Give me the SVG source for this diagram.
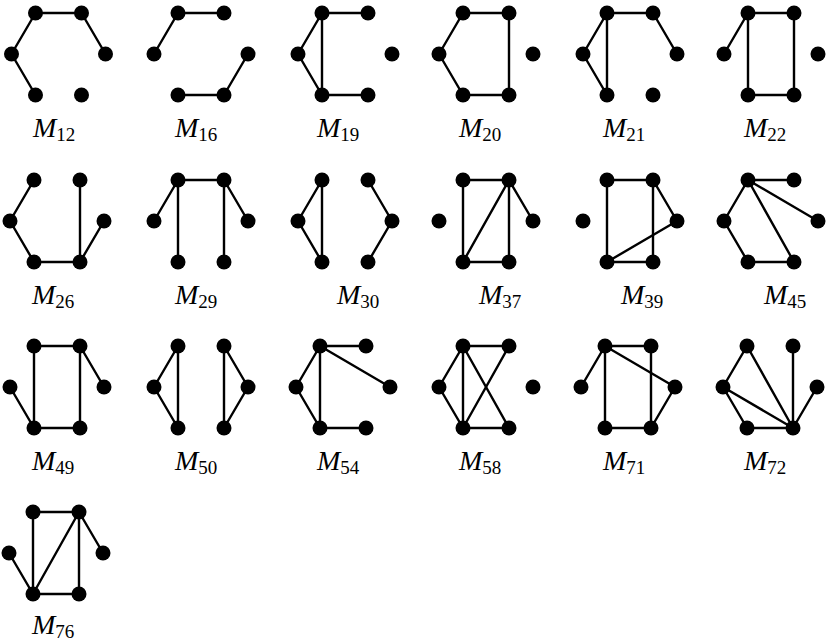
<svg xmlns="http://www.w3.org/2000/svg" width="826" height="644" viewBox="0 0 826 644">
<style>
.e line{stroke:#000;stroke-width:2.4;stroke-linecap:round}
.v circle{fill:#000}
.lb{font-family:"Liberation Serif","Times New Roman",serif;fill:#000}
.mi{font-style:italic;font-size:28px}
.sb{font-size:19px}
</style>
<defs>
<g id="verts" class="v">
<circle cx="0" cy="0" r="7.5"/><circle cx="46" cy="0" r="7.5"/><circle cx="70" cy="41" r="7.5"/>
<circle cx="46" cy="82" r="7.5"/><circle cx="0" cy="82" r="7.5"/><circle cx="-24" cy="41" r="7.5"/>
</g>
</defs>
<rect width="826" height="644" fill="#fff"/>

<g id="M12" transform="translate(35.5,13)">
<g class="e"><line x1="0" y1="0" x2="46" y2="0"/><line x1="0" y1="0" x2="-24" y2="41"/><line x1="-24" y1="41" x2="0" y2="82"/><line x1="46" y1="0" x2="70" y2="41"/></g>
<use href="#verts"/></g>
<g id="M16" transform="translate(178,13)">
<g class="e"><line x1="-24" y1="41" x2="0" y2="0"/><line x1="0" y1="0" x2="46" y2="0"/><line x1="0" y1="82" x2="46" y2="82"/><line x1="46" y1="82" x2="70" y2="41"/></g>
<use href="#verts"/></g>
<g id="M19" transform="translate(322,13)">
<g class="e"><line x1="0" y1="0" x2="46" y2="0"/><line x1="0" y1="0" x2="-24" y2="41"/><line x1="-24" y1="41" x2="0" y2="82"/><line x1="0" y1="0" x2="0" y2="82"/><line x1="0" y1="82" x2="46" y2="82"/></g>
<use href="#verts"/></g>
<g id="M20" transform="translate(463,13)">
<g class="e"><line x1="0" y1="0" x2="46" y2="0"/><line x1="0" y1="0" x2="-24" y2="41"/><line x1="-24" y1="41" x2="0" y2="82"/><line x1="0" y1="82" x2="46" y2="82"/><line x1="46" y1="0" x2="46" y2="82"/></g>
<use href="#verts"/></g>
<g id="M21" transform="translate(607,13)">
<g class="e"><line x1="0" y1="0" x2="46" y2="0"/><line x1="0" y1="0" x2="-24" y2="41"/><line x1="-24" y1="41" x2="0" y2="82"/><line x1="0" y1="0" x2="0" y2="82"/><line x1="46" y1="0" x2="70" y2="41"/></g>
<use href="#verts"/></g>
<g id="M22" transform="translate(748,13)">
<g class="e"><line x1="0" y1="0" x2="46" y2="0"/><line x1="0" y1="0" x2="-24" y2="41"/><line x1="0" y1="0" x2="0" y2="82"/><line x1="46" y1="0" x2="46" y2="82"/><line x1="0" y1="82" x2="46" y2="82"/></g>
<use href="#verts"/></g>

<g id="M26" transform="translate(34,180)">
<g class="e"><line x1="0" y1="0" x2="-24" y2="41"/><line x1="-24" y1="41" x2="0" y2="82"/><line x1="0" y1="82" x2="46" y2="82"/><line x1="46" y1="0" x2="46" y2="82"/><line x1="70" y1="41" x2="46" y2="82"/></g>
<use href="#verts"/></g>
<g id="M29" transform="translate(178,180)">
<g class="e"><line x1="0" y1="0" x2="46" y2="0"/><line x1="0" y1="0" x2="-24" y2="41"/><line x1="0" y1="0" x2="0" y2="82"/><line x1="46" y1="0" x2="70" y2="41"/><line x1="46" y1="0" x2="46" y2="82"/></g>
<use href="#verts"/></g>
<g id="M30" transform="translate(322,180)">
<g class="e"><line x1="0" y1="0" x2="-24" y2="41"/><line x1="-24" y1="41" x2="0" y2="82"/><line x1="0" y1="0" x2="0" y2="82"/><line x1="46" y1="0" x2="70" y2="41"/><line x1="70" y1="41" x2="46" y2="82"/></g>
<use href="#verts"/></g>
<g id="M37" transform="translate(463,180)">
<g class="e"><line x1="0" y1="0" x2="46" y2="0"/><line x1="0" y1="0" x2="0" y2="82"/><line x1="0" y1="82" x2="46" y2="82"/><line x1="46" y1="0" x2="0" y2="82"/><line x1="46" y1="0" x2="46" y2="82"/><line x1="46" y1="0" x2="70" y2="41"/></g>
<use href="#verts"/></g>
<g id="M39" transform="translate(607,180)">
<g class="e"><line x1="0" y1="0" x2="46" y2="0"/><line x1="0" y1="0" x2="0" y2="82"/><line x1="0" y1="82" x2="46" y2="82"/><line x1="46" y1="0" x2="46" y2="82"/><line x1="46" y1="0" x2="70" y2="41"/><line x1="70" y1="41" x2="0" y2="82"/></g>
<use href="#verts"/></g>
<g id="M45" transform="translate(748,180)">
<g class="e"><line x1="0" y1="0" x2="46" y2="0"/><line x1="0" y1="0" x2="-24" y2="41"/><line x1="-24" y1="41" x2="0" y2="82"/><line x1="0" y1="82" x2="46" y2="82"/><line x1="0" y1="0" x2="46" y2="82"/><line x1="0" y1="0" x2="70" y2="41"/></g>
<use href="#verts"/></g>

<g id="M49" transform="translate(34,346)">
<g class="e"><line x1="0" y1="0" x2="46" y2="0"/><line x1="0" y1="0" x2="0" y2="82"/><line x1="-24" y1="41" x2="0" y2="82"/><line x1="0" y1="82" x2="46" y2="82"/><line x1="46" y1="0" x2="46" y2="82"/><line x1="46" y1="0" x2="70" y2="41"/></g>
<use href="#verts"/></g>
<g id="M50" transform="translate(178,346)">
<g class="e"><line x1="0" y1="0" x2="-24" y2="41"/><line x1="-24" y1="41" x2="0" y2="82"/><line x1="0" y1="0" x2="0" y2="82"/><line x1="46" y1="0" x2="70" y2="41"/><line x1="70" y1="41" x2="46" y2="82"/><line x1="46" y1="0" x2="46" y2="82"/></g>
<use href="#verts"/></g>
<g id="M54" transform="translate(320,346)">
<g class="e"><line x1="0" y1="0" x2="46" y2="0"/><line x1="0" y1="0" x2="-24" y2="41"/><line x1="-24" y1="41" x2="0" y2="82"/><line x1="0" y1="0" x2="0" y2="82"/><line x1="0" y1="82" x2="46" y2="82"/><line x1="0" y1="0" x2="70" y2="41"/></g>
<use href="#verts"/></g>
<g id="M58" transform="translate(463,346)">
<g class="e"><line x1="0" y1="0" x2="46" y2="0"/><line x1="0" y1="0" x2="-24" y2="41"/><line x1="-24" y1="41" x2="0" y2="82"/><line x1="0" y1="0" x2="0" y2="82"/><line x1="0" y1="0" x2="46" y2="82"/><line x1="46" y1="0" x2="0" y2="82"/><line x1="0" y1="82" x2="46" y2="82"/></g>
<use href="#verts"/></g>
<g id="M71" transform="translate(605,346)">
<g class="e"><line x1="0" y1="0" x2="-24" y2="41"/><line x1="0" y1="0" x2="46" y2="0"/><line x1="0" y1="0" x2="0" y2="82"/><line x1="0" y1="0" x2="70" y2="41"/><line x1="46" y1="0" x2="46" y2="82"/><line x1="0" y1="82" x2="46" y2="82"/><line x1="70" y1="41" x2="46" y2="82"/></g>
<use href="#verts"/></g>
<g id="M72" transform="translate(747,346)">
<g class="e"><line x1="0" y1="0" x2="-24" y2="41"/><line x1="0" y1="0" x2="46" y2="82"/><line x1="-24" y1="41" x2="46" y2="82"/><line x1="-24" y1="41" x2="0" y2="82"/><line x1="0" y1="82" x2="46" y2="82"/><line x1="46" y1="0" x2="46" y2="82"/><line x1="70" y1="41" x2="46" y2="82"/></g>
<use href="#verts"/></g>

<g id="M76" transform="translate(33,512)">
<g class="e"><line x1="0" y1="0" x2="46" y2="0"/><line x1="0" y1="0" x2="0" y2="82"/><line x1="-24" y1="41" x2="0" y2="82"/><line x1="0" y1="82" x2="46" y2="82"/><line x1="46" y1="0" x2="0" y2="82"/><line x1="46" y1="0" x2="46" y2="82"/><line x1="46" y1="0" x2="70" y2="41"/></g>
<use href="#verts"/></g>

<g id="labels" class="lb">
<text x="33" y="137"><tspan class="mi">M</tspan><tspan class="sb" dy="4">12</tspan></text>
<text x="175" y="137"><tspan class="mi">M</tspan><tspan class="sb" dy="4">16</tspan></text>
<text x="317" y="137"><tspan class="mi">M</tspan><tspan class="sb" dy="4">19</tspan></text>
<text x="459" y="137"><tspan class="mi">M</tspan><tspan class="sb" dy="4">20</tspan></text>
<text x="603" y="137"><tspan class="mi">M</tspan><tspan class="sb" dy="4">21</tspan></text>
<text x="744" y="137"><tspan class="mi">M</tspan><tspan class="sb" dy="4">22</tspan></text>
<text x="32" y="304"><tspan class="mi">M</tspan><tspan class="sb" dy="4">26</tspan></text>
<text x="175" y="304"><tspan class="mi">M</tspan><tspan class="sb" dy="4">29</tspan></text>
<text x="337" y="304"><tspan class="mi">M</tspan><tspan class="sb" dy="4">30</tspan></text>
<text x="479" y="304"><tspan class="mi">M</tspan><tspan class="sb" dy="4">37</tspan></text>
<text x="621" y="304"><tspan class="mi">M</tspan><tspan class="sb" dy="4">39</tspan></text>
<text x="764" y="304"><tspan class="mi">M</tspan><tspan class="sb" dy="4">45</tspan></text>
<text x="32" y="470"><tspan class="mi">M</tspan><tspan class="sb" dy="4">49</tspan></text>
<text x="175" y="470"><tspan class="mi">M</tspan><tspan class="sb" dy="4">50</tspan></text>
<text x="317" y="470"><tspan class="mi">M</tspan><tspan class="sb" dy="4">54</tspan></text>
<text x="459" y="470"><tspan class="mi">M</tspan><tspan class="sb" dy="4">58</tspan></text>
<text x="603" y="470"><tspan class="mi">M</tspan><tspan class="sb" dy="4">71</tspan></text>
<text x="744" y="470"><tspan class="mi">M</tspan><tspan class="sb" dy="4">72</tspan></text>
<text x="32" y="634"><tspan class="mi">M</tspan><tspan class="sb" dy="4">76</tspan></text>
</g>
</svg>
